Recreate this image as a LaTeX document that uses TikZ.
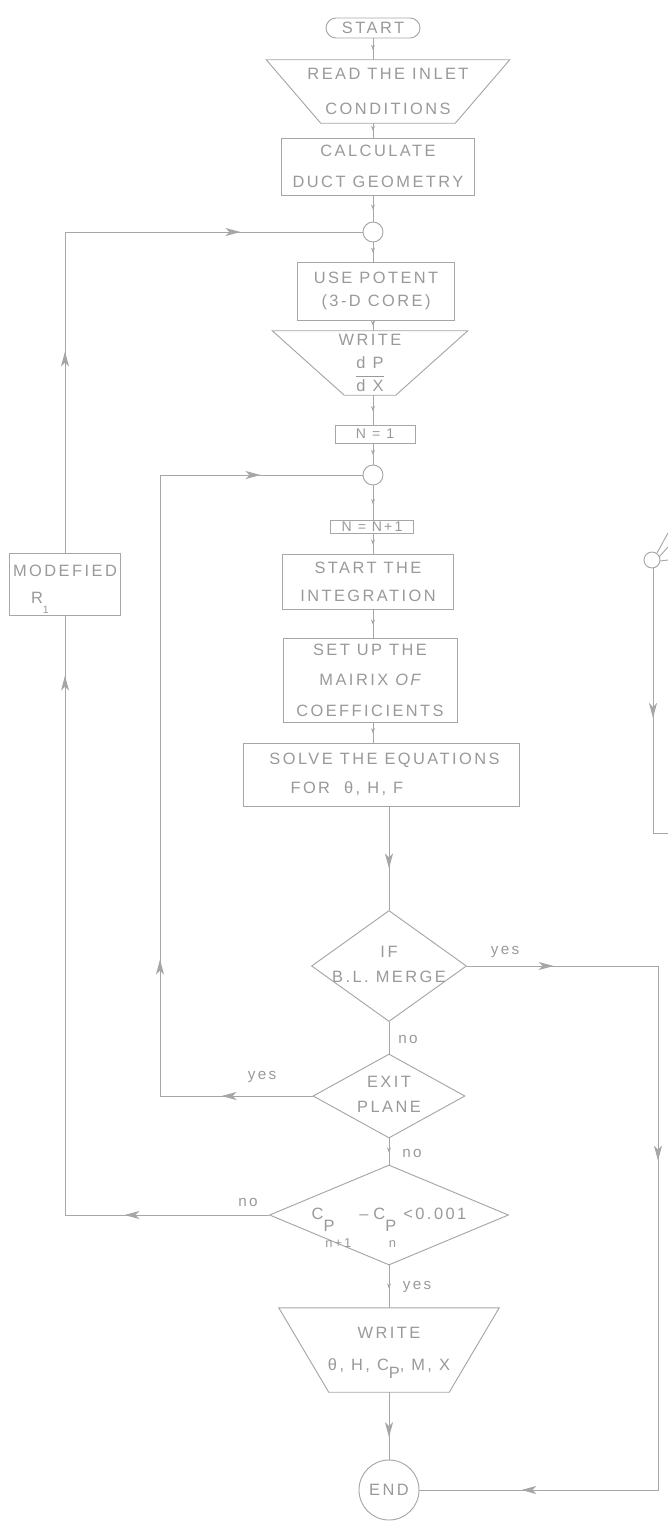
\documentclass[tikz,border=0pt]{standalone}
\usepackage{amsmath}
\usepackage{fontspec}
\setmainfont[LetterSpace=15]{Liberation Sans}
\usetikzlibrary{arrows.meta,shapes.geometric,decorations.markings}

% text that does not widen a diamond
\newcommand{\dlabel}[1]{\makebox[0pt]{\begin{tabular}{@{}c@{}}#1\end{tabular}}}
% lowered index as the stencil sets it
\newcommand{\low}[2]{\smash{\raisebox{-#1}{#2}}}

\tikzset{
  ink/.style={draw=gray!70, line width=0.8pt},
  txt/.style={text=gray!80, font=\fontsize{14}{17}\selectfont},
  proc/.style={ink, txt, rectangle, inner sep=0pt, align=center},
  io/.style={txt, inner sep=0pt, align=center},
  decision/.style={ink, txt, diamond, inner sep=0pt},
  joint/.style={ink, circle, minimum size=0.6cm, inner sep=0pt},
  lbl/.style={text=gray!80, font=\fontsize{13}{15}\selectfont, inner sep=1pt},
  tipat/.style={postaction={decorate, decoration={markings,
      mark=at position #1 with {\arrow{Stealth[length=4.5mm,width=2.4mm,inset=1.2mm]}}}}},
  smalltip/.style={postaction={decorate, decoration={markings,
      mark=at position #1 with {\arrow{Stealth[length=1.6mm,width=1.2mm]}}}}},
  smalltip/.default=0.55
}

\begin{document}
\begin{tikzpicture}[x=0.03cm,y=-0.03cm]
\useasboundingbox (0,0) rectangle (668,1529);

% Main column
\node[proc, rounded corners=0.3cm, minimum width=2.82cm, minimum height=0.6cm] (start) at (373,28) {START};
\node[io, minimum width=7.29cm, minimum height=1.89cm] (read) at (388,91.5) {READ THE INLET\\[13pt]CONDITIONS};
\draw[ink] (read.north west) -- (read.north east) -- ([xshift=-1.635cm]read.south east)
    -- ([xshift=1.635cm]read.south west) -- cycle;
\node[proc, minimum width=5.79cm, minimum height=1.71cm] (calc) at (378,166.5) {CALCULATE\\[10pt]DUCT GEOMETRY};
\node[joint] (c1) at (373,232) {};
\node[proc, minimum width=4.71cm, minimum height=1.74cm] (potent) at (376,291) {USE POTENT\\[2pt](3-D CORE)};
\node[io, minimum width=5.85cm, minimum height=1.92cm] (write1) at (370,363)
    {WRITE\\[9pt]$\dfrac{\text{d P}}{\text{d X}}$};
\draw[ink] (write1.north west) -- (write1.north east) -- ([xshift=-2.16cm]write1.south east)
    -- ([xshift=2.16cm]write1.south west) -- cycle;
\node[proc, minimum width=2.4cm, minimum height=0.54cm, font=\fontsize{12}{14}\selectfont] (n1) at (375,434) {N = 1};
\node[joint] (c2) at (373,475) {};
\node[proc, minimum width=2.49cm, minimum height=0.4cm, font=\fontsize{12}{14}\selectfont] (nn1) at (372,527) {N = N+1};
\node[proc, minimum width=5.13cm, minimum height=1.65cm] (integ) at (368,581.5) {START THE\\[7pt]INTEGRATION};
\node[proc, minimum width=5.22cm, minimum height=2.52cm] (setup) at (370,680)
    {SET UP THE\\[9pt]MAIRIX {\itshape OF}\\[9pt]COEFFICIENTS};
\node[proc, minimum width=8.28cm, minimum height=1.89cm, align=left] (solve) at (381,774.5)
    {\hspace*{6pt}SOLVE THE EQUATIONS\\[8pt]\hspace*{24pt}FOR\ \ θ, H, F};
\node[decision, minimum width=4.65cm, minimum height=3.33cm] (ifm) at (389,966)
    {\dlabel{IF\\[4pt]B.L. MERGE}};
\node[decision, minimum width=4.56cm, minimum height=2.52cm] (exitp) at (389,1096)
    {\dlabel{EXIT\\[4pt]PLANE}};
\node[decision, minimum width=7.17cm, minimum height=3.0cm] (cp) at (389,1215)
    {\dlabel{C\low{11pt}{P}\hspace{-0.55em}\low{24pt}{\fontsize{11}{12}\selectfont n+1}\hspace{0.5em}--\hspace{0.3em}C\low{11pt}{P}\hspace{-0.45em}\low{24pt}{\fontsize{11}{12}\selectfont n}\hspace{0.45em}<0.001}};
\node[io, minimum width=6.6cm, minimum height=2.52cm] (write2) at (389,1350)
    {WRITE\\[10pt]θ, H, C\low{7pt}{P}, M, X};
\draw[ink] (write2.north west) -- (write2.north east) -- ([xshift=-1.5cm]write2.south east)
    -- ([xshift=1.5cm]write2.south west) -- cycle;
\node[ink, txt, circle, minimum size=1.8cm, inner sep=0pt] (endn) at (389,1490) {END};

% Side box
\node[proc, minimum width=3.33cm, minimum height=1.86cm, align=left] (modified) at (65,584)
    {MODEFIED\\[6pt]\hspace{1.1em}R\low{9pt}{\fontsize{9}{10}\selectfont 1}};

% Loop corners
\coordinate (loopin) at (160,475);
\coordinate (loopout) at (658,966);

% Connectors down the column
\draw[ink, smalltip] (start) -- (start |- read.north);
\draw[ink, smalltip] (read.south -| c1) -- (c1 |- calc.north);
\draw[ink, smalltip] (calc.south -| c1) -- (c1);
\draw[ink, smalltip] (c1) -- (c1 |- potent.north);
\draw[ink, smalltip] (potent.south -| c1) -- (c1 |- write1.north);
\draw[ink, smalltip] (write1.south -| c1) -- (c1 |- n1.north);
\draw[ink, smalltip] (n1.south -| c2) -- (c2);
\draw[ink, smalltip] (c2) -- (c2 |- nn1.north);
\draw[ink, smalltip] (nn1.south -| c2) -- (c2 |- integ.north);
\draw[ink, smalltip] (integ.south -| c2) -- (c2 |- setup.north);
\draw[ink, smalltip] (setup.south -| c2) -- (c2 |- solve.north);
\draw[ink, tipat=1.86cm] (solve.south -| ifm) -- (ifm.north);
\draw[ink] (ifm.south) -- (exitp.north);
\draw[ink, smalltip] (exitp.south) -- (cp.north);
\draw[ink, smalltip] (cp.south) -- (write2.north);
\draw[ink, tipat=1.35cm] (write2.south) -- (endn.north);

% Loops
\draw[ink, tipat=4.34cm, tipat=22.3cm] (cp.west) -| (modified.south);
\draw[ink, tipat=6.03cm, tipat=14.88cm] (modified.north) |- (c1.west);
\draw[ink, tipat=2.73cm, tipat=8.67cm, tipat=26.22cm] (exitp.west) -| (loopin) -- (c2.west);
\draw[ink, tipat=2.6cm, tipat=11.57cm, tipat=25.55cm] (ifm.east) -- (loopout) |- (endn.east);

% Branch labels
\node[lbl] (yesA) at (505,952) {yes};
\node[lbl] (noA) at (408,1039) {no};
\node[lbl] (yesB) at (262,1077) {yes};
\node[lbl] (noB) at (412,1153) {no};
\node[lbl] (noC) at (248,1202) {no};
\node[lbl] (yesC) at (417,1287) {yes};

% Cut edge of the next chart
\draw[ink] (652,560) circle (8);
\draw[ink] (657,553) -- (668,533);
\draw[ink] (659,557) -- (668,547);
\draw[ink] (660,561) -- (668,560);
\draw[ink, tipat=4.5cm] (653,568) -- (653,833) -- (668,833);
\end{tikzpicture}
\end{document}
